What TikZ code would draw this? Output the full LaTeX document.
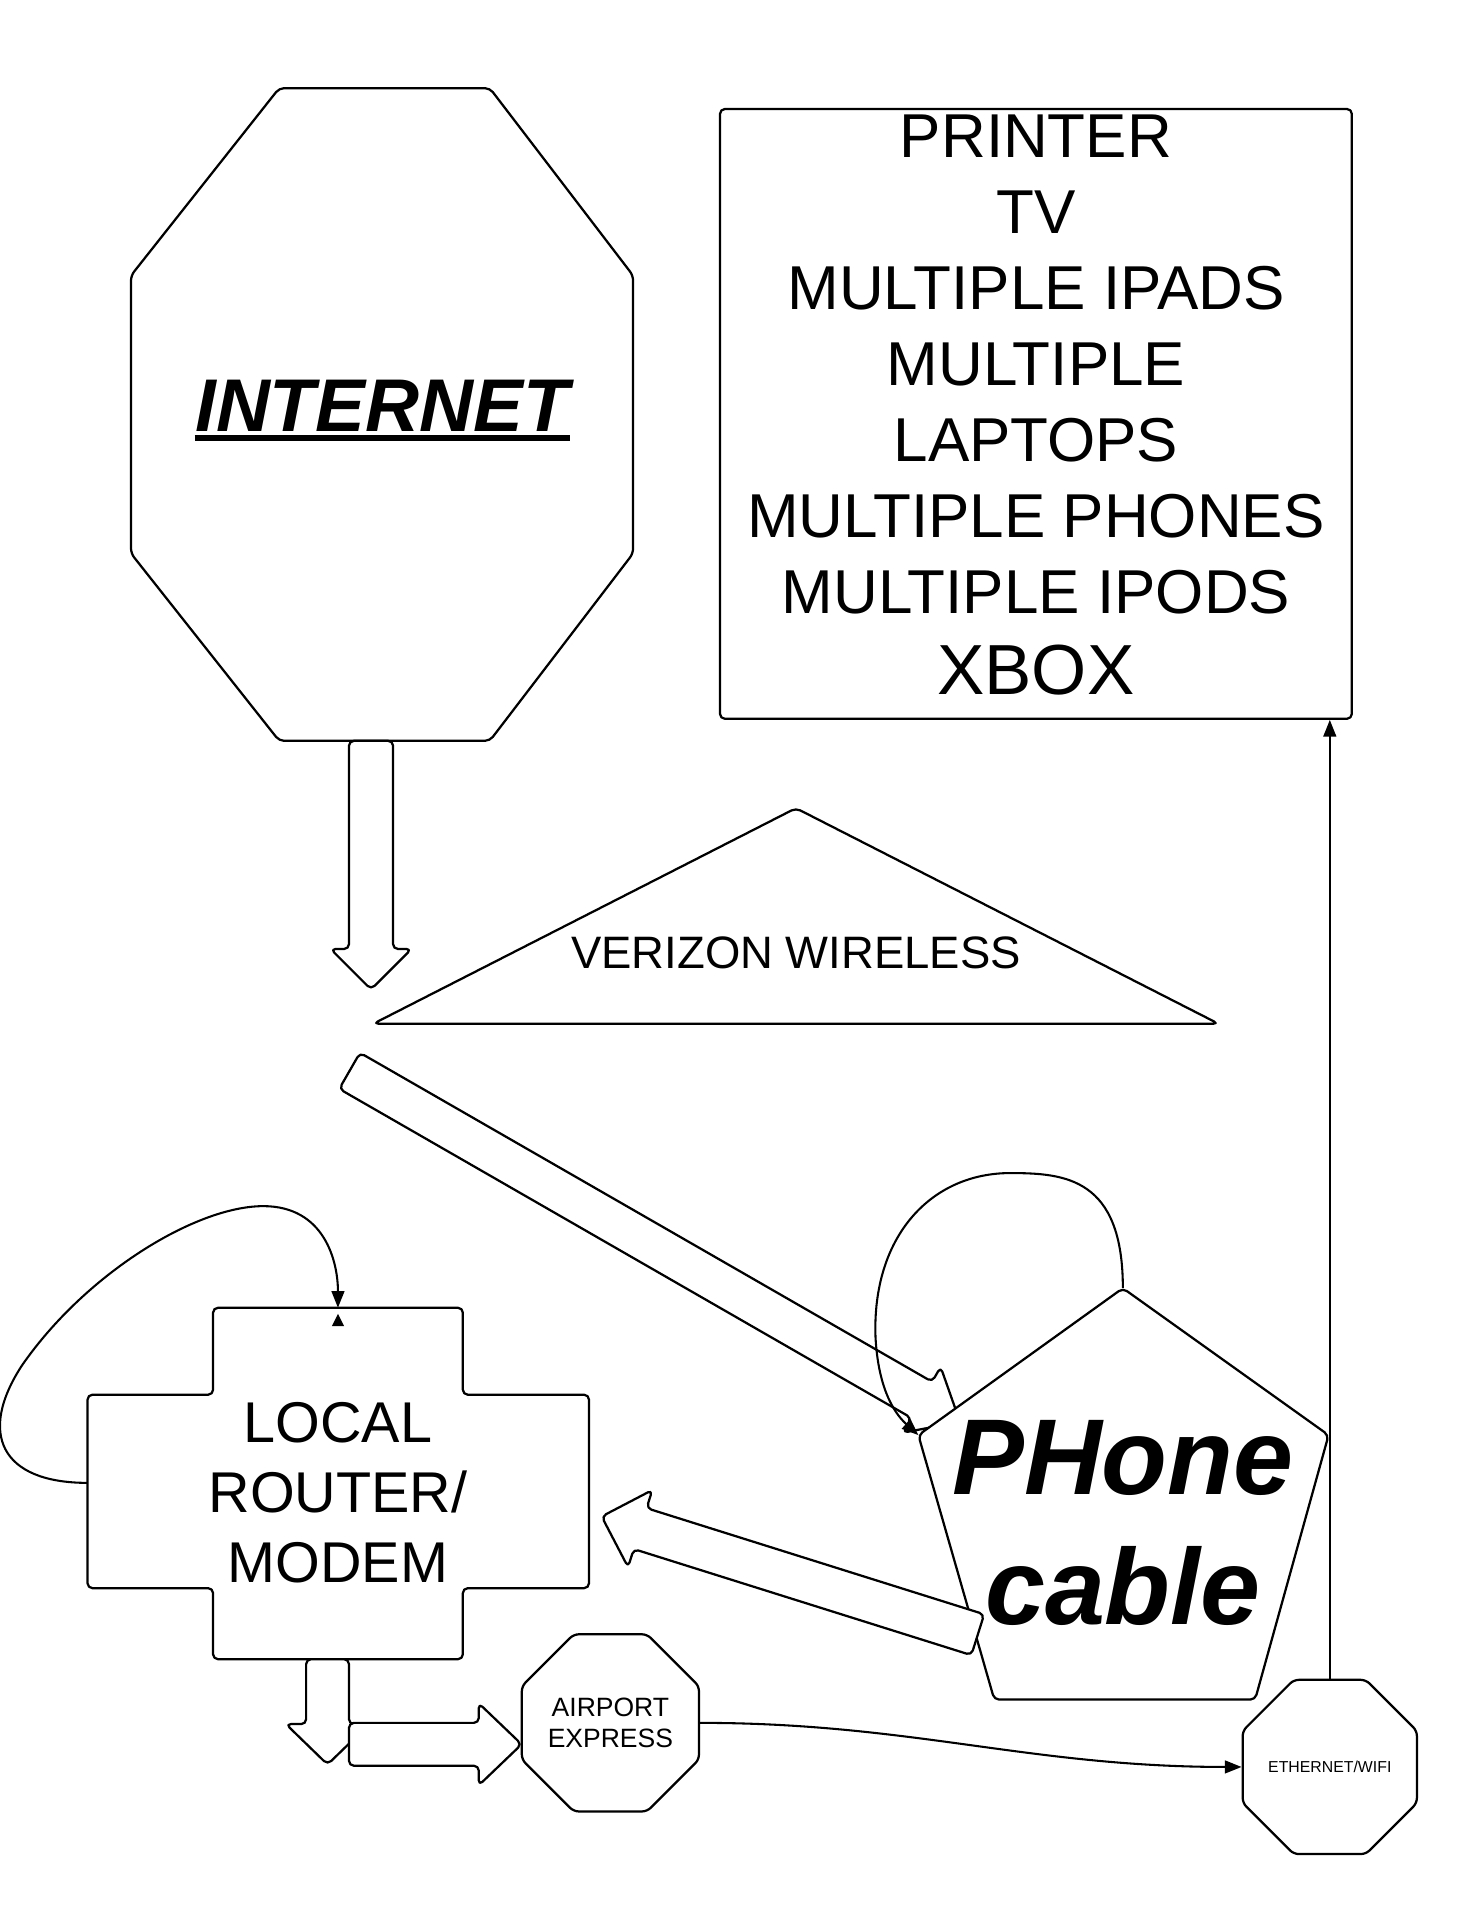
\documentclass[tikz,border=0pt]{standalone}
\usepackage{fontspec}
\setmainfont{Liberation Sans}
\usetikzlibrary{arrows.meta}
\usetikzlibrary{shapes.geometric}
\tikzset{
	outline/.style={draw, line width=0.65pt, fill=white, rounded corners=0.5mm, line join=round},
	thinarrow/.style={line width=0.6pt, -{Triangle[length=1.7mm, width=1.3mm]}},
	octagon/.style={outline, regular polygon, regular polygon sides=8, inner sep=0pt, align=center},
}
% block arrow: tail, angle, length, shaft half width, head half width, head length
\newcommand{\blockarrow}[6]{%
	\begin{scope}[shift={#1}, rotate=#2]
		\draw[outline] (0,-#4) -- (#3-#6,-#4) -- (#3-#6,-#5) -- (#3,0) -- (#3-#6,#5) -- (#3-#6,#4) -- (0,#4) -- cycle;
	\end{scope}}

\begin{document}
\begin{tikzpicture}[x=0.125mm, y=-0.125mm]
	\useasboundingbox (0,0) rectangle (1211,1568);
	% internet
	\draw[outline] (228,72) -- (400,72) -- (517,225) -- (517,452) -- (400,605) -- (228,605) -- (107,452) -- (107,225) -- cycle;
	\node[font=\fontsize{21.7}{26}\selectfont\bfseries\itshape, inner sep=0pt, anchor=base] (internet) at (312,352) {INTERNET};
	\draw[line width=1.8pt] ([yshift=-0.75mm]internet.base west) -- ([yshift=-0.75mm]internet.base east);
	% devices
	\node[outline, minimum width=64.5mm, minimum height=62.25mm] (devices) at (846,338) {};
	\node[align=center, font=\fontsize{18}{22.05}\selectfont] (devlist) at (846,331)
		{PRINTER\\TV\\MULTIPLE IPADS\\MULTIPLE\\LAPTOPS\\MULTIPLE PHONES\\MULTIPLE IPODS\\[1.5pt]{\fontsize{20.6}{22}\selectfont XBOX}};
	% verizon
	\draw[outline] (305,836) -- (650,660) -- (995,836) -- cycle;
	\node[font=\fontsize{13.2}{16}\selectfont] (verizon) at (650,778) {VERIZON WIRELESS};
	\coordinate (inetS) at (303,605);
	\blockarrow{(inetS)}{-90}{203}{18}{33}{33}
	\coordinate (diagtail) at (285.5,874.5);
	\blockarrow{(diagtail)}{-29.9}{575}{17}{31}{36}
	% phone cable
	\coordinate (phoneT) at (917,1052);
	\coordinate (phoneL) at (750,1172);
	\draw[outline] (phoneT) -- (1085,1172) -- (1025,1388) -- (812,1388) -- (phoneL) -- cycle;
	\node[font=\fontsize{31.3}{37.7}\selectfont\bfseries\itshape, align=center] (phone) at (917,1244) {PHone\\cable};
	\draw[thinarrow] (phoneT) .. controls (917,962) and (870,958) .. (825,958) .. controls (760,958) and (712,1010) .. (715,1092) .. controls (717,1130) and (728,1152) .. (phoneL);
	\coordinate (phonetail) at (798.5,1335);
	\blockarrow{(phonetail)}{162.55}{322}{17.5}{33}{33}
	% router
	\draw[outline] (174,1068) -- (378,1068) -- (378,1139) -- (481,1139) -- (481,1297) -- (378,1297) -- (378,1355) -- (174,1355) -- (174,1297) -- (71.5,1297) -- (71.5,1139) -- (174,1139) -- cycle;
	\node[font=\fontsize{16.7}{20.3}\selectfont, align=center] (router) at (276,1219) {LOCAL\\ROUTER/\\MODEM};
	\coordinate (routerW) at (71.5,1211);
	\coordinate (routerN) at (276,1068);
	\draw[thinarrow] (routerW) .. controls (0,1211) and (-18,1170) .. (18,1115) .. controls (70,1040) and (160,985) .. (215,985) .. controls (265,985) and (276,1030) .. (routerN);
	\fill (271,1083) -- (276,1073) -- (281,1083) -- cycle;
	\coordinate (routerS) at (267.5,1355);
	\blockarrow{(routerS)}{-90}{86}{17.5}{34}{33}
	\coordinate (righttail) at (285,1424.5);
	\blockarrow{(righttail)}{0}{141}{17.5}{33.5}{35}
	% airport and ethernet
	\node[octagon, minimum size=19.35mm, font=\fontsize{7.7}{9.25}\selectfont] (airport) at (498.5,1407) {AIRPORT\\EXPRESS};
	\node[octagon, minimum size=19.2mm, font=\fontsize{4.6}{5.5}\selectfont] (ether) at (1086,1443) {ETHERNET/WIFI};
	\draw[thinarrow] (airport.east) to[out=0, in=180] (ether.west);
	\draw[thinarrow] (ether.north) -- (ether.north |- devices.south);
\end{tikzpicture}
\end{document}
